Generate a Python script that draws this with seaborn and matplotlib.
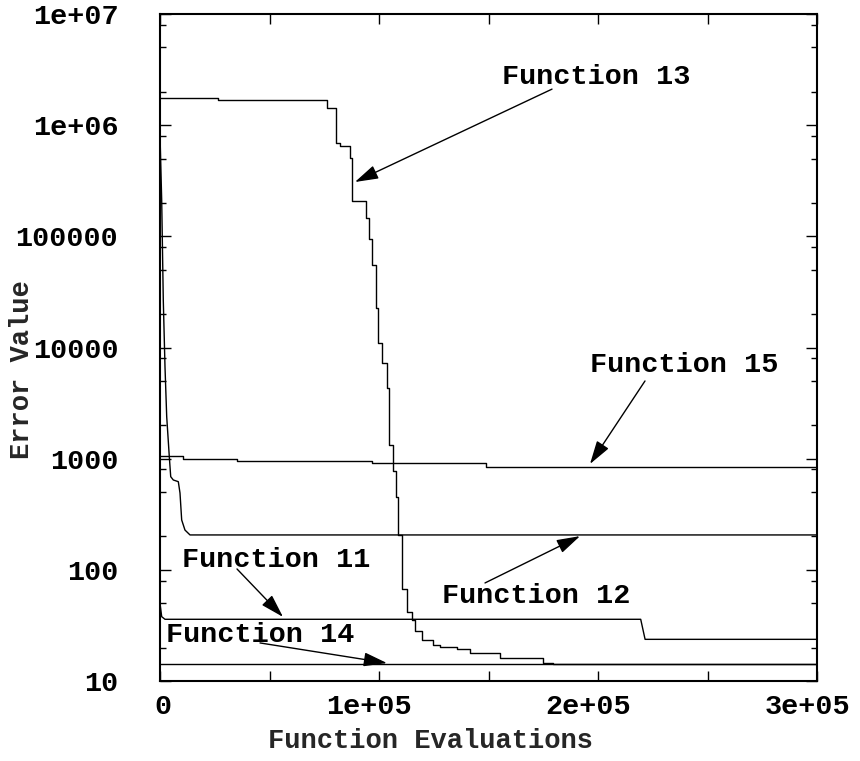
import numpy as np
import pandas as pd
import matplotlib
matplotlib.use("Agg")
import matplotlib.pyplot as plt
import matplotlib.transforms as mtransforms
import seaborn as sns
from matplotlib.ticker import FixedLocator, FixedFormatter, LogLocator, NullFormatter

# ---------------- data ----------------
f13_x = [0, 26500, 76250, 80200, 82200, 86750, 87700, 93900, 95400, 96800, 98600,
         99500, 101200, 103700, 104600, 106300, 107600, 108700, 110400, 112600,
         114900, 116400, 119500, 124700, 127900, 135500, 141600, 155300, 174900,
         179500, 300000]
f13_y = [1.75e6, 1.69e6, 1.43e6, 6.9e5, 6.5e5, 5.07e5, 2.08e5, 1.46e5, 9.5e4, 5.5e4,
         2.26e4, 1.1e4, 7.26e3, 4.3e3, 1.33e3, 780, 455, 205, 67, 42, 35.4, 28.2,
         23.4, 21.1, 20.2, 19.4, 17.9, 16.1, 14.5, 14.2, 14.2]

f15_x = [0, 10500, 35000, 96700, 148900, 300000]
f15_y = [1060, 994, 953, 914, 847, 847]

f12_x = [0, 776, 1500, 2280, 3060, 4250, 4890, 6070, 8360, 9130, 9900, 11400, 13700, 300000]
f12_y = [8.2e5, 2.1e5, 2.67e4, 6.7e3, 2.39e3, 1.04e3, 689, 643, 621, 491, 281, 228, 206, 206]

f11_x = [0, 776, 2280, 219500, 221500, 300000]
f11_y = [50, 37.9, 35.9, 35.9, 23.7, 23.7]

f14_x = [0, 300000]
f14_y = [14.3, 14.3]

x_ticks = [0, 50000, 100000, 150000, 200000, 250000, 300000]
x_tick_labels = ["0", "", "1e+05", "", "2e+05", "", "3e+05"]
y_ticks = [10, 100, 1000, 10000, 100000, 1e6, 1e7]
y_tick_labels = ["10", "100", "1000", "10000", "100000", "1e+06", "1e+07"]

labels = ["Function 13", "Function 15", "Function 12", "Function 11", "Function 14"]
label_pos = [(199090, 2.71e6), (239270, 6966), (171690, 58.2), (52970, 122.7), (45660, 25.9)]
arrow_tail = [(179000, 2.11e6), (221460, 5000), (148400, 76.2), (35160, 101.8), (45660, 22.0)]
arrow_tip = [(89000, 3.08e5), (196350, 896), (191780, 201), (56160, 37.7), (103650, 14.5)]

# ---------------- style ----------------
sns.set_theme(style="ticks")
plt.rcParams["font.family"] = ["Liberation Mono", "DejaVu Sans"]
plt.rcParams["font.weight"] = "bold"
plt.rcParams["axes.labelweight"] = "bold"

fig = plt.figure(figsize=(8.6, 7.61), dpi=100)
ax = fig.add_axes([160 / 860, 1 - 681 / 761, (817 - 160) / 860, (681 - 14) / 761])

series = [
    (f13_x, f13_y, "steps-post"),
    (f15_x, f15_y, "steps-post"),
    (f12_x, f12_y, "default"),
    (f11_x, f11_y, "default"),
    (f14_x, f14_y, "default"),
]
for xs, ys, ds in series:
    df = pd.DataFrame({"x": xs, "y": ys})
    sns.lineplot(data=df, x="x", y="y", ax=ax, color="black", lw=1.0,
                 drawstyle=ds, estimator=None, sort=False)

ax.set_yscale("log")
ax.set_xlim(0, 300000)
ax.set_ylim(10, 1e7)

ax.xaxis.set_major_locator(FixedLocator(x_ticks))
ax.xaxis.set_major_formatter(FixedFormatter(x_tick_labels))
ax.yaxis.set_major_locator(FixedLocator(y_ticks))
ax.yaxis.set_major_formatter(FixedFormatter(y_tick_labels))
ax.yaxis.set_minor_locator(LogLocator(base=10, subs=[2, 5, 8]))
ax.yaxis.set_minor_formatter(NullFormatter())

ax.tick_params(axis="both", which="both", direction="in", top=True, right=True,
               colors="black", width=1.0)
ax.tick_params(axis="y", which="major", length=8, pad=30, labelsize=20.5)
ax.tick_params(axis="y", which="minor", length=4.3)
ax.tick_params(axis="x", which="major", length=7.5, pad=9, labelsize=20.5)
for lbl in ax.get_xticklabels() + ax.get_yticklabels():
    lbl.set_fontweight("bold")

# gnuplot-like placement of the x tick labels (slightly left of the tick)
for tick in ax.xaxis.get_major_ticks():
    shift = 3 if tick.get_loc() == 0 else -10
    tick.label1.set_transform(tick.label1.get_transform() +
                              mtransforms.ScaledTranslation(shift / 100, 0, fig.dpi_scale_trans))

for s in ax.spines.values():
    s.set_linewidth(1.5)
    s.set_color("black")

ax.set_xlabel("Function Evaluations", fontsize=19.5, fontweight="bold")
ax.set_ylabel("Error Value", fontsize=19.5, fontweight="bold")
ax.xaxis.label.set_va("center")
ax.yaxis.label.set_va("center")
ax.xaxis.set_label_coords((431 - 160) / 657, (681 - 741) / 667)
ax.yaxis.set_label_coords((22 - 160) / 657, (681 - 370) / 667)

for txt, pos, tail, tip in zip(labels, label_pos, arrow_tail, arrow_tip):
    ax.text(pos[0], pos[1], txt, ha="center", va="center", fontsize=20.5,
            fontweight="bold", color="black")
    ax.annotate("", xy=tip, xytext=tail,
                arrowprops=dict(arrowstyle="-|>,head_length=0.6,head_width=0.18",
                                mutation_scale=24, color="black", lw=1.0,
                                shrinkA=0, shrinkB=0))

fig.savefig("out.png", dpi=100, facecolor="white")
